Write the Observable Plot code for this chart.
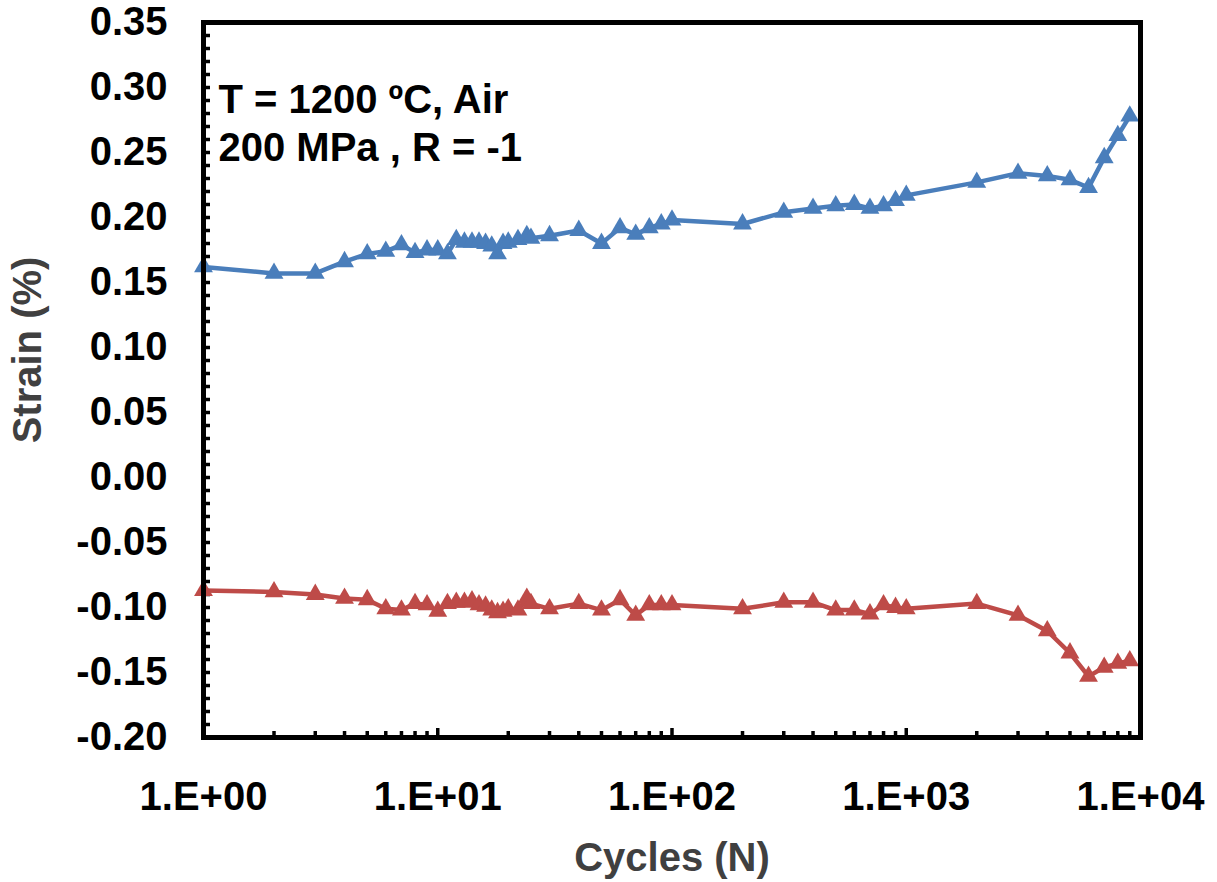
<!DOCTYPE html>
<html><head><meta charset="utf-8">
<script src="https://cdn.jsdelivr.net/npm/d3@7"></script>
<script src="https://cdn.jsdelivr.net/npm/@observablehq/plot@0.6"></script>
<style>html,body{margin:0;padding:0;background:#fff}#chart{width:1217px;height:882px}</style>
</head><body><div id="chart"></div>
<script>
const cycles = [1,2,3,4,5,6,7,8,9,10,11,12,13,14,15,16,17,18,19,20,22,24,25,30,40,50,60,70,80,90,100,200,300,400,500,600,700,800,900,1000,2000,3000,4000,5000,6000,7000,8000,9000];
const maxStrain = [0.162,0.157,0.157,0.166,0.172,0.174,0.179,0.173,0.175,0.175,0.172,0.183,0.181,0.181,0.181,0.180,0.178,0.172,0.180,0.181,0.183,0.186,0.184,0.186,0.190,0.180,0.192,0.187,0.192,0.195,0.198,0.195,0.204,0.207,0.209,0.210,0.207,0.209,0.213,0.217,0.227,0.234,0.232,0.229,0.223,0.246,0.263,0.278];
const minStrain = [-0.087,-0.088,-0.090,-0.093,-0.094,-0.101,-0.102,-0.097,-0.098,-0.103,-0.097,-0.096,-0.096,-0.095,-0.098,-0.099,-0.102,-0.104,-0.103,-0.101,-0.102,-0.093,-0.097,-0.101,-0.097,-0.102,-0.094,-0.106,-0.098,-0.098,-0.098,-0.101,-0.096,-0.096,-0.102,-0.102,-0.105,-0.098,-0.100,-0.101,-0.097,-0.106,-0.118,-0.135,-0.153,-0.146,-0.143,-0.141];
const yTicks = [-0.20,-0.15,-0.10,-0.05,0.00,0.05,0.10,0.15,0.20,0.25,0.30,0.35];
const yTickLabels = ["-0.20","-0.15","-0.10","-0.05","0.00","0.05","0.10","0.15","0.20","0.25","0.30","0.35"];
const xTicks = [1,10,100,1000,10000];
const xTickLabels = ["1.E+00","1.E+01","1.E+02","1.E+03","1.E+04"];
const xLabel = "Cycles (N)";
const yLabel = "Strain (%)";
const note = ["T = 1200 ºC, Air", "200 MPa , R = -1"];

const blue = "#4a7ebb", red = "#be4b48";
const maxData = cycles.map((c,i)=>({c, s: maxStrain[i]}));
const minData = cycles.map((c,i)=>({c, s: minStrain[i]}));
const yMinor = d3.range(-20, 36).map(i => i/100);
const xMinor = [];
for (const dec of [1,10,100,1000]) for (let k=2;k<=9;k++) xMinor.push(k*dec);
const yLab = new Map(yTicks.map((t,i)=>[t, yTickLabels[i]]));
const xLab = new Map(xTicks.map((t,i)=>[t, xTickLabels[i]]));

const font = "Liberation Sans, Arial, sans-serif";
const chart = Plot.plot({
  width: 1217, height: 882,
  marginLeft: 203, marginRight: 77, marginTop: 22, marginBottom: 145,
  style: {fontFamily: font, fontSize: "40px", fontWeight: "bold", background: "#fff", color: "#000"},
  x: {type: "log", domain: [1, 10000], label: null},
  y: {domain: [-0.2, 0.35], label: null},
  marks: [
    Plot.axisY(yMinor, {anchor: "left", tickSize: -7, text: null, strokeWidth: 3.5, label: null}),
    Plot.axisY(yTicks, {anchor: "left", tickSize: 0, tickPadding: 36, tickFormat: d => yLab.get(d), fontSize: 40, fontWeight: "bold", label: null}),
    Plot.axisX(xMinor, {anchor: "bottom", tickSize: -6, text: null, strokeWidth: 3.5, label: null}),
    Plot.axisX(xTicks, {anchor: "bottom", tickSize: -9, text: null, strokeWidth: 3.5, label: null}),
    Plot.axisX(xTicks, {anchor: "bottom", tickSize: 0, tickPadding: 44, tickFormat: d => xLab.get(d), fontSize: 40, fontWeight: "bold", label: null}),
    Plot.line(maxData, {x: "c", y: "s", stroke: blue, strokeWidth: 4.5}),
    Plot.dot(maxData, {x: "c", y: "s", symbol: "triangle", r: 7, fill: blue, stroke: "none"}),
    Plot.line(minData, {x: "c", y: "s", stroke: red, strokeWidth: 4.5}),
    Plot.dot(minData, {x: "c", y: "s", symbol: "triangle", r: 7, fill: red, stroke: "none"}),
    Plot.text([note.join("\n")], {frameAnchor: "top-left", dx: 15, dy: 56, lineAnchor: "top", textAnchor: "start", lineHeight: 1.2, fontSize: 40, fontWeight: "bold", fill: "#000"}),
    Plot.text([xLabel], {frameAnchor: "bottom", dy: 121, lineAnchor: "middle", textAnchor: "middle", fontSize: 40, fontWeight: "bold", fill: "#404040"}),
    Plot.text([yLabel], {frameAnchor: "left", dx: -175, dy: -30, rotate: -90, lineAnchor: "middle", textAnchor: "middle", fontSize: 40, fontWeight: "bold", fill: "#404040"}),
    Plot.frame({stroke: "#000", strokeWidth: 5})
  ]
});
document.getElementById("chart").appendChild(chart);
</script>
</body></html>
